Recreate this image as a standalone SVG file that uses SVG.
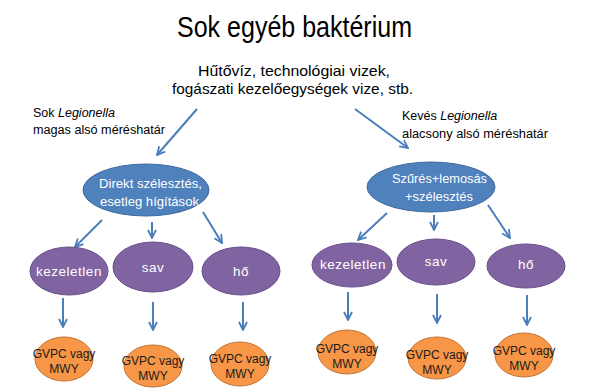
<svg xmlns="http://www.w3.org/2000/svg" width="590" height="391" viewBox="0 0 590 391">
<defs>
<marker id="ah" viewBox="0 0 10 10" refX="9" refY="5" markerWidth="10" markerHeight="10" markerUnits="userSpaceOnUse" orient="auto">
<path d="M1,1 L9,5 L1,9" fill="none" stroke="#4A7EBB" stroke-width="1.8"/>
</marker>
<style>
text{font-family:"Liberation Sans",Arial,sans-serif}
.title{font-size:29px;fill:#000;text-anchor:middle}
.sub{font-size:15px;fill:#000;text-anchor:middle}
.lab{font-size:12.5px;fill:#000}
.blue{fill:#4F81BD;stroke:#3E6A9C;stroke-width:1}
.purple{fill:#8064A2;stroke:#684F88;stroke-width:1}
.orange{fill:#F79646;stroke:#C27232;stroke-width:1}
.wt{fill:#fff;font-size:13.5px;text-anchor:middle;letter-spacing:0.5px}
.bt{fill:#fff;font-size:13px;text-anchor:middle}
.ot{fill:#1a1a1a;font-size:12px;text-anchor:middle}
.conn line{stroke:#4A7EBB;stroke-width:2;marker-end:url(#ah)}
</style>
</defs>
<rect width="590" height="391" fill="#fff"/>
<g id="title"><text class="title" x="294.5" y="37" textLength="235" lengthAdjust="spacingAndGlyphs">Sok egyéb baktérium</text></g>
<g id="source">
<text class="sub" x="294" y="76" textLength="192" lengthAdjust="spacingAndGlyphs">Hűtővíz, technológiai vizek,</text>
<text class="sub" x="292.5" y="94" textLength="241" lengthAdjust="spacingAndGlyphs">fogászati kezelőegységek vize, stb.</text>
</g>
<g id="label-left">
<text class="lab" x="33" y="117">Sok <tspan font-style="italic">Legionella</tspan></text>
<text class="lab" x="33" y="134" textLength="132" lengthAdjust="spacingAndGlyphs">magas alsó méréshatár</text>
</g>
<g id="label-right">
<text class="lab" x="402" y="120">Kevés <tspan font-style="italic">Legionella</tspan></text>
<text class="lab" x="402" y="138" textLength="146" lengthAdjust="spacingAndGlyphs">alacsony alsó méréshatár</text>
</g>
<g class="conn" id="connectors">
<line x1="197" y1="109" x2="157" y2="155"/>
<line x1="355" y1="109" x2="408" y2="148"/>
<line x1="102" y1="220" x2="75" y2="247"/>
<line x1="152" y1="222" x2="152" y2="238"/>
<line x1="203" y1="212" x2="222" y2="243"/>
<line x1="387" y1="213" x2="358" y2="240"/>
<line x1="434" y1="215" x2="434" y2="230"/>
<line x1="488" y1="205" x2="510" y2="238"/>
<line x1="63" y1="298" x2="63" y2="327"/>
<line x1="153" y1="302" x2="153" y2="330"/>
<line x1="243" y1="302" x2="243" y2="330"/>
<line x1="348" y1="292" x2="348" y2="320"/>
<line x1="437" y1="294" x2="437" y2="323"/>
<line x1="527" y1="295" x2="527" y2="325"/>
</g>
<g id="direkt">
<ellipse class="blue" cx="146" cy="190" rx="63" ry="26"/>
<text class="bt" x="150.5" y="188" textLength="103" lengthAdjust="spacingAndGlyphs">Direkt szélesztés,</text>
<text class="bt" x="149.5" y="206" textLength="99" lengthAdjust="spacingAndGlyphs">esetleg hígítások</text>
</g>
<g id="szures">
<ellipse class="blue" cx="431" cy="187" rx="64" ry="25"/>
<text class="bt" x="439.5" y="183" textLength="95" lengthAdjust="spacingAndGlyphs">Szűrés+lemosás</text>
<text class="bt" x="439" y="201" textLength="68" lengthAdjust="spacingAndGlyphs">+szélesztés</text>
</g>
<g id="l-kezeletlen"><ellipse class="purple" cx="69" cy="271" rx="39" ry="24"/><text class="wt" x="69" y="276">kezeletlen</text></g>
<g id="l-sav"><ellipse class="purple" cx="153" cy="267" rx="40" ry="25"/><text class="wt" x="153" y="272">sav</text></g>
<g id="l-ho"><ellipse class="purple" cx="241" cy="271" rx="39" ry="24"/><text class="wt" x="241" y="276">hő</text></g>
<g id="r-kezeletlen"><ellipse class="purple" cx="352" cy="265" rx="40" ry="22"/><text class="wt" x="353" y="269">kezeletlen</text></g>
<g id="r-sav"><ellipse class="purple" cx="436" cy="262" rx="39" ry="23"/><text class="wt" x="436" y="266">sav</text></g>
<g id="r-ho"><ellipse class="purple" cx="526" cy="266" rx="39" ry="22"/><text class="wt" x="526" y="269">hő</text></g>
<g id="l-gvpc1"><ellipse class="orange" cx="64" cy="359" rx="29" ry="22"/><text class="ot" x="64" y="358">GVPC vagy</text><text class="ot" x="64" y="373">MWY</text></g>
<g id="l-gvpc2"><ellipse class="orange" cx="153" cy="366" rx="29" ry="21"/><text class="ot" x="153" y="365">GVPC vagy</text><text class="ot" x="153" y="380">MWY</text></g>
<g id="l-gvpc3"><ellipse class="orange" cx="240" cy="364" rx="29" ry="22"/><text class="ot" x="240" y="363">GVPC vagy</text><text class="ot" x="240" y="378">MWY</text></g>
<g id="r-gvpc1"><ellipse class="orange" cx="347" cy="352" rx="29" ry="22"/><text class="ot" x="347" y="353">GVPC vagy</text><text class="ot" x="347" y="368">MWY</text></g>
<g id="r-gvpc2"><ellipse class="orange" cx="437" cy="358" rx="29" ry="21"/><text class="ot" x="437" y="359">GVPC vagy</text><text class="ot" x="437" y="374">MWY</text></g>
<g id="r-gvpc3"><ellipse class="orange" cx="524" cy="355" rx="29" ry="22"/><text class="ot" x="524" y="355">GVPC vagy</text><text class="ot" x="524" y="370">MWY</text></g>
</svg>
